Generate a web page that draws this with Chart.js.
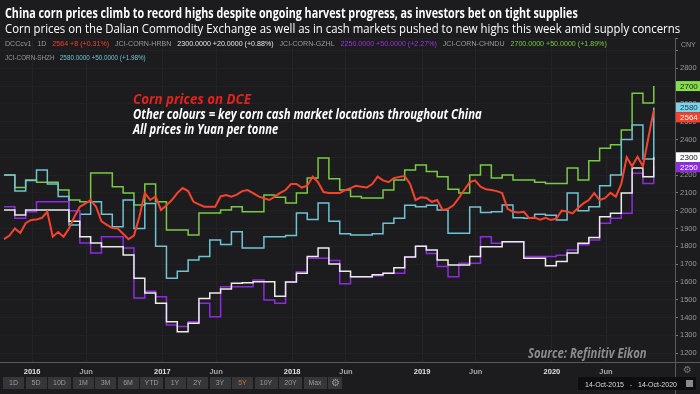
<!DOCTYPE html>
<html>
<head>
<meta charset="utf-8">
<script src="https://cdn.jsdelivr.net/npm/chart.js@4.4.0/dist/chart.umd.min.js"></script>
<style>
  html, body { margin: 0; padding: 0; background: #1c1c1f; }
  #wrap { position: relative; width: 700px; height: 394px; overflow: hidden; background: #1c1c1f; font-family: "Liberation Sans", Arial, sans-serif; }
  #chart { position: absolute; left: 0; top: 0; }
  .t { position: absolute; white-space: nowrap; transform-origin: left center; line-height: 1; }
  .btn { position: absolute; top: 377px; height: 12px; background: #36363a; color: #9a9a9a; font-size: 7px; line-height: 12px; text-align: center; }
</style>
</head>
<body>
<div id="wrap">
  <canvas id="chart" width="700" height="394"></canvas>
  <div class="t" data-w="573" style="left:5px;top:4px;font:bold 13.5px 'Open Sans';color:#fff;">China corn prices climb to record highs despite ongoing harvest progress, as investors bet on tight supplies</div>
  <div class="t" data-w="675" style="left:5px;top:19px;font:13.5px 'Open Sans';color:#fff;">Corn prices on the Dalian Commodity Exchange as well as in cash markets pushed to new highs this week amid supply concerns</div>
  <div class="t" data-w="602" style="left:5px;top:40px;font:7px 'Liberation Sans';color:#9a9a9a;">DCCcv1&nbsp;&nbsp;&nbsp;1D&nbsp;&nbsp;&nbsp;<span style="color:#f5402c">2564 +8 (+0.31%)</span>&nbsp;&nbsp;&nbsp;JCI-CORN-HRBN&nbsp;&nbsp;&nbsp;<span style="color:#e8e8e8">2300.0000 +20.0000 (+0.88%)</span>&nbsp;&nbsp;&nbsp;JCI-CORN-GZHL&nbsp;&nbsp;&nbsp;<span style="color:#9a35e0">2250.0000 +50.0000 (+2.27%)</span>&nbsp;&nbsp;&nbsp;JCI-CORN-CHNDU&nbsp;&nbsp;&nbsp;<span style="color:#7ac943">2700.0000 +50.0000 (+1.89%)</span></div>
  <div class="t" data-w="141" style="left:5px;top:54px;font:7px 'Liberation Sans';color:#9a9a9a;">JCI-CORN-SHZH&nbsp;&nbsp;&nbsp;<span style="color:#6fc3d3">2580.0000 +50.0000 (+1.98%)</span></div>
  <div class="t" data-w="118" style="left:133px;top:89px;font:italic bold 14px 'Open Sans';color:#e3221c;">Corn prices on DCE</div>
  <div class="t" data-w="349" style="left:133px;top:104px;font:italic bold 14px 'Open Sans';color:#fff;">Other colours = key corn cash market locations throughout China</div>
  <div class="t" data-w="145" style="left:133px;top:119px;font:italic bold 14px 'Open Sans';color:#fff;">All prices in Yuan per tonne</div>
  <div class="t" data-w="119" style="left:528px;top:343px;font:italic bold 14px 'Open Sans';color:#8c8c8c;">Source: Refinitiv Eikon</div>
  <div id="toolbar"></div>
  <div style="position:absolute;left:578px;top:377px;width:118px;height:13px;background:#0e0e10;"></div>
  <div class="t" data-w="92" style="left:585px;top:380px;font:8px 'Liberation Sans';color:#ddd;">14-Oct-2015&nbsp;&nbsp;&nbsp;-&nbsp;&nbsp;&nbsp;14-Oct-2020</div>
  <div style="position:absolute;left:686px;top:380px;width:7px;height:7px;background:#8a8a8a;"></div>
  <div class="t" style="left:683px;top:364px;font:10px 'DejaVu Sans';color:#777;">&#9881;</div>
</div>
<script>
// months since 14-Oct-2015: cash markets monthly, DCE futures twice a month
const monthIndex = Array.from({ length: 61 }, (_, i) => i);
const halfMonthIndex = Array.from({ length: 121 }, (_, i) => i / 2);

const dce = [1840, 1860, 1900, 1875, 1930, 1948, 1950, 1960, 1994, 1854, 1880, 1854, 1900, 1966,
  2022, 2040, 2060, 2022, 1940, 1920, 1902, 1900, 1870, 1840, 1860, 1966, 2099, 2060,
  2080, 2004, 2030, 2060, 2099, 2127, 2110, 2050, 2035, 2022, 2022, 2022, 2080, 2088,
  2079, 2090, 2110, 2116, 2099, 2080, 2070, 2060, 2079, 2100, 2116, 2150, 2150, 2130,
  2140, 2191, 2160, 2105, 2099, 2099, 2099, 2115, 2127, 2140, 2135, 2130, 2150, 2191,
  2170, 2160, 2183, 2190, 2195, 2150, 2060, 2075, 2071, 2050, 2060, 2004, 2010, 2030,
  2071, 2116, 2160, 2170, 2135, 2120, 2116, 2110, 2099, 2010, 1994, 1990, 1994, 1958,
  1962, 1950, 1960, 1948, 1955, 2000, 1995, 1985, 2015, 2041, 2060, 2099, 2060, 2070,
  2100, 2079, 2150, 2300, 2250, 2303, 2250, 2410, 2564];

const hrbn = [2004, 1976, 2004, 2004, 2004, 2004, 1940, 1854, 1818, 1798, 1798, 1751, 1620,
  1538, 1480, 1376, 1320, 1367, 1507, 1538, 1560, 1592, 1595, 1601, 1601,
  1520, 1600, 1648, 1742, 1790, 1700, 1660, 1629, 1629, 1640, 1648, 1680,
  1740, 1800, 1779, 1723, 1695, 1695, 1742, 1798, 1798, 1826, 1826, 1733,
  1733, 1690, 1715, 1762, 1817, 1850, 1966, 1985, 2100, 2240, 2191, 2300];

const gzhl = [2022, 1958, 1994, 2050, 2050, 2050, 2000, 1818, 1762, 1854, 1854, 1790, 1510,
  1548, 1517, 1358, 1349, 1376, 1480, 1404, 1573, 1573, 1573, 1611, 1498,
  1480, 1600, 1657, 1733, 1733, 1720, 1590, 1629, 1629, 1635, 1648, 1648,
  1740, 1800, 1760, 1686, 1629, 1705, 1705, 1854, 1817, 1826, 1826, 1742,
  1742, 1742, 1750, 1779, 1808, 1835, 1930, 1958, 1985, 2210, 2153, 2250];

const chndu = [2200, 2130, 2172, 2160, 2160, 2116, 2060, 2050, 2212, 2212, 2135, 2099, 2032,
  2150, 2050, 1892, 1892, 1863, 1987, 1987, 2004, 2022, 1994, 1994, 2088,
  2075, 2043, 2099, 2183, 2296, 2180, 2116, 2079, 2071, 2071, 2116, 2172,
  2229, 2257, 2220, 2191, 2120, 2099, 2200, 2257, 2183, 2200, 2172, 2172,
  2160, 2153, 2153, 2240, 2172, 2280, 2350, 2370, 2453, 2660, 2605, 2700];

const shzh = [2200, 2110, 2170, 2229, 2150, 2080, 1920, 1980, 2050, 1980, 1910, 2060, 1900,
  2040, 1800, 1620, 1660, 1723, 1742, 1835, 1810, 1882, 1790, 1790, 1854,
  1854, 1860, 1987, 1950, 2043, 1940, 1870, 1864, 1864, 1870, 1930, 1957,
  2030, 2022, 2030, 2004, 1873, 1873, 2020, 1990, 1994, 2032, 1960, 1958,
  1980, 1975, 1948, 2099, 2000, 2022, 2140, 2200, 2400, 2481, 2290, 2580];

const tickDates = ['2016-01-01', '2016-06-01', '2017-01-01', '2017-06-01', '2018-01-01', '2018-06-01',
  '2019-01-01', '2019-06-01', '2020-01-01', '2020-06-01'];
const tickLabels = ['2016', 'Jun', '2017', 'Jun', '2018', 'Jun', '2019', 'Jun', '2020', 'Jun'];

const lastLabels = [
  { value: 2700, bg: '#86dd4a', fg: '#1a1a1a' },
  { value: 2580, bg: '#7fd3e6', fg: '#1a3a60' },
  { value: 2564, bg: '#f5402c', fg: '#ffffff' },
  { value: 2300, bg: '#ffffff', fg: '#111111' },
  { value: 2250, bg: '#8e2be0', fg: '#ffffff' }
];

const buttons = ['1D', '5D', '10D', '1M', '3M', '6M', 'YTD', '1Y', '2Y', '3Y', '5Y', '10Y', '20Y', 'Max'];

const start = new Date('2015-10-14');
const tickPos = tickDates.map(d => (new Date(d) - start) / (86400000 * 30.4375));

function pts(xs, arr) { return arr.map((v, i) => ({ x: xs[i], y: v })); }

// toolbar buttons
const tb = document.getElementById('toolbar');
let bx = 3;
buttons.forEach(b => {
  const w = b.length > 2 ? 23 : 21;
  const d = document.createElement('div');
  d.className = 'btn';
  d.style.left = bx + 'px';
  d.style.width = w + 'px';
  d.textContent = b;
  if (b === '5Y') d.style.color = '#d2702e';
  tb.appendChild(d);
  bx += w + 1.5;
});
const gear = document.createElement('div');
gear.className = 'btn';
gear.style.left = bx + 'px';
gear.style.width = '14px';
gear.style.fontSize = '10px';
gear.innerHTML = '&#9881;';
tb.appendChild(gear);

// squeeze texts to their measured widths
document.querySelectorAll('.t[data-w]').forEach(el => {
  const w = +el.dataset.w;
  el.style.transform = 'scaleX(' + (w / el.scrollWidth) + ')';
});

const framePlugin = {
  id: 'frame',
  afterDraw(chart) {
    const c = chart.ctx, a = chart.chartArea, y = chart.scales.y;
    c.save();
    c.strokeStyle = '#5a5a5e';
    c.lineWidth = 1;
    c.beginPath();
    c.moveTo(0, a.bottom + 0.5); c.lineTo(700, a.bottom + 0.5);
    c.moveTo(a.right + 0.5, a.top); c.lineTo(a.right + 0.5, 394);
    c.stroke();
    c.fillStyle = '#9a9a9a';
    c.font = '7px "Liberation Sans"';
    c.textBaseline = 'middle';
    c.fillText('CNY', 681, 45);
    // last value boxes
    let prev = -100;
    lastLabels.forEach(l => {
      let py = y.getPixelForValue(l.value);
      if (py < prev + 10) py = prev + 10;
      prev = py;
      c.fillStyle = l.bg;
      c.fillRect(a.right + 1, py - 5, 24, 10);
      c.fillStyle = l.fg;
      c.font = '8px "Liberation Sans"';
      c.fillText(String(l.value), a.right + 5, py + 0.5);
    });
    c.restore();
  }
};

const lineDs = (label, xs, data, color, width, stepped) => ({
  label, data: pts(xs, data), borderColor: color, borderWidth: width,
  pointRadius: 0, fill: false, tension: 0, stepped
});

new Chart(document.getElementById('chart'), {
  type: 'line',
  data: {
    datasets: [
      lineDs('DCCcv1', halfMonthIndex, dce, '#f7432e', 2, false),
      lineDs('JCI-CORN-HRBN', monthIndex, hrbn, '#ececec', 1.5, 'before'),
      lineDs('JCI-CORN-GZHL', monthIndex, gzhl, '#8e2be0', 1.5, 'before'),
      lineDs('JCI-CORN-SHZH', monthIndex, shzh, '#6fc3d3', 1.5, 'before'),
      lineDs('JCI-CORN-CHNDU', monthIndex, chndu, '#7ac943', 1.5, 'before')
    ]
  },
  options: {
    responsive: false,
    animation: false,
    layout: { padding: { top: 38, left: 0, right: 0, bottom: 0 } },
    plugins: { legend: { display: false }, tooltip: { enabled: false } },
    scales: {
      x: {
        type: 'linear',
        min: -0.37,
        max: 61.96,
        afterBuildTicks: s => { s.ticks = tickPos.map(v => ({ value: v })); },
        afterFit: s => { s.height = 32; },
        grid: { color: '#242428', drawTicks: false },
        border: { display: false },
        ticks: {
          autoSkip: false,
          maxRotation: 0,
          padding: 5,
          callback: (v, i) => tickLabels[i],
          color: ctx => tickLabels[ctx.index] === 'Jun' ? '#a8a8a8' : '#e0e0e0',
          font: { family: 'Liberation Sans', size: 7.5, weight: 'bold' }
        }
      },
      y: {
        position: 'right',
        min: 1150,
        max: 2970,
        afterFit: s => { s.width = 25; },
        grid: { color: '#222226', tickLength: 3, tickColor: '#777' },
        border: { display: false },
        ticks: {
          stepSize: 100,
          padding: 2,
          color: '#9a9a9a',
          font: { family: 'Liberation Sans', size: 7.5 },
          callback: v => (Number(v) >= 1200 && Number(v) <= 2800) ? v : ''
        }
      }
    }
  },
  plugins: [framePlugin]
});
</script>
</body>
</html>
